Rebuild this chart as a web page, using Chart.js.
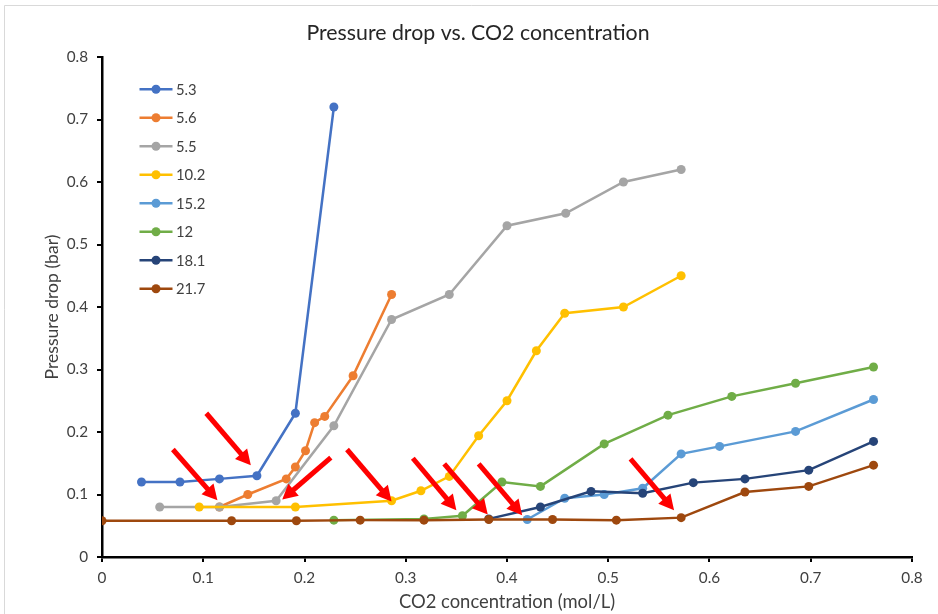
<!DOCTYPE html>
<html><head><meta charset="utf-8">
<script src="https://cdn.jsdelivr.net/npm/chart.js@4.4.1/dist/chart.umd.min.js"></script>
<style>html,body{margin:0;padding:0;background:#fff}#wrap{width:938px;height:614px;position:relative}canvas{display:block}</style>
</head><body><div id="wrap"><canvas id="c" width="938" height="614"></canvas></div>
<script>
// ---- data ----
const seriesNames = ['5.3', '5.6', '5.5', '10.2', '15.2', '12', '18.1', '21.7'];
const s53x = [0.039, 0.077, 0.116, 0.153, 0.191, 0.229];
const s53y = [0.12, 0.12, 0.125, 0.13, 0.23, 0.72];
const s56x = [0.116, 0.144, 0.182, 0.191, 0.201, 0.210, 0.220, 0.248, 0.286];
const s56y = [0.08, 0.10, 0.125, 0.144, 0.17, 0.215, 0.225, 0.29, 0.42];
const s55x = [0.057, 0.116, 0.172, 0.229, 0.286, 0.343, 0.400, 0.458, 0.515, 0.572];
const s55y = [0.08, 0.08, 0.09, 0.21, 0.38, 0.42, 0.53, 0.55, 0.60, 0.62];
const s102x = [0.096, 0.191, 0.286, 0.315, 0.343, 0.372, 0.400, 0.429, 0.457, 0.515, 0.572];
const s102y = [0.08, 0.08, 0.09, 0.106, 0.129, 0.194, 0.25, 0.33, 0.39, 0.40, 0.45];
const s152x = [0.420, 0.457, 0.496, 0.534, 0.572, 0.610, 0.685, 0.762];
const s152y = [0.06, 0.094, 0.10, 0.11, 0.165, 0.177, 0.201, 0.252];
const s12x = [0.229, 0.318, 0.356, 0.395, 0.433, 0.496, 0.559, 0.622, 0.685, 0.762];
const s12y = [0.059, 0.061, 0.066, 0.12, 0.113, 0.181, 0.227, 0.257, 0.278, 0.304];
const s181x = [0.382, 0.433, 0.483, 0.534, 0.584, 0.635, 0.698, 0.762];
const s181y = [0.061, 0.08, 0.105, 0.102, 0.119, 0.125, 0.139, 0.185];
const s217x = [0, 0.128, 0.192, 0.255, 0.318, 0.382, 0.445, 0.508, 0.572, 0.635, 0.698, 0.762];
const s217y = [0.058, 0.058, 0.058, 0.059, 0.059, 0.060, 0.060, 0.059, 0.063, 0.104, 0.113, 0.147];
// red annotation arrows, in data units: tail -> head
const arrowTails = [[0.070, 0.172], [0.103, 0.230], [0.226, 0.159], [0.242, 0.172], [0.307, 0.158], [0.338, 0.149], [0.372, 0.149], [0.522, 0.157]];
const arrowHeads = [[0.114, 0.091], [0.147, 0.147], [0.178, 0.092], [0.286, 0.089], [0.350, 0.075], [0.381, 0.068], [0.415, 0.067], [0.565, 0.075]];
const xTicks = [0, 0.1, 0.2, 0.3, 0.4, 0.5, 0.6, 0.7, 0.8];
const yTicks = [0, 0.1, 0.2, 0.3, 0.4, 0.5, 0.6, 0.7, 0.8];
const chartTitle = 'Pressure drop vs. CO2 concentration';
const xTitle = 'CO2 concentration (mol/L)';
const yTitle = 'Pressure drop (bar)';

const xs = [s53x, s56x, s55x, s102x, s152x, s12x, s181x, s217x];
const ys = [s53y, s56y, s55y, s102y, s152y, s12y, s181y, s217y];
const colors = ['#4472C4', '#ED7D31', '#A5A5A5', '#FFC000', '#5B9BD5', '#70AD47', '#264478', '#9E480E'];

const FONT = 'Lato';
const TXT = '#404040';

// pick font sizes so that text widths match the reference
const mctx = document.createElement('canvas').getContext('2d');
function fitSize(text, targetW) {
  mctx.font = '100px ' + FONT;
  return Math.round(100 * targetW / mctx.measureText(text).width * 10) / 10;
}
const titleSize = fitSize(chartTitle, 343);
const xTitleSize = fitSize(xTitle, 216);
const yTitleSize = fitSize(yTitle, 145);
const tickSize = fitSize('0.8', 21.3);
const legendSize = fitSize('5.3', 20.7);

const datasets = seriesNames.map((n, i) => ({
  label: n,
  data: xs[i].map((x, k) => ({x: x, y: ys[i][k]})),
  borderColor: colors[i],
  backgroundColor: colors[i],
  pointBackgroundColor: colors[i],
  pointBorderColor: colors[i],
  borderWidth: 2.5,
  pointRadius: 4.5,
  pointBorderWidth: 0,
  showLine: true,
  tension: 0,
  order: seriesNames.length - i
}));

const insideLegend = {
  id: 'insideLegend',
  afterDatasetsDraw(chart) {
    const ctx = chart.ctx, ca = chart.chartArea;
    const lx0 = ca.left + 37.5, lx1 = ca.left + 70.5, mx = ca.left + 54, tx = ca.left + 74;
    const y0 = ca.top + 32.3, dy = 28.5;
    chart.data.datasets.forEach((ds, i) => {
      const y = y0 + i * dy;
      ctx.save();
      ctx.strokeStyle = ds.borderColor; ctx.lineWidth = 2.5;
      ctx.beginPath(); ctx.moveTo(lx0, y); ctx.lineTo(lx1, y); ctx.stroke();
      ctx.fillStyle = ds.borderColor;
      ctx.beginPath(); ctx.arc(mx, y, 4.5, 0, Math.PI * 2); ctx.fill();
      ctx.fillStyle = TXT; ctx.font = legendSize + 'px ' + FONT; ctx.textBaseline = 'middle'; ctx.textAlign = 'left';
      ctx.fillText(ds.label, tx, y + 0.5);
      ctx.restore();
    });
  }
};

const arrowPlugin = {
  id: 'arrows',
  afterDatasetsDraw(chart) {
    const ctx = chart.ctx, sx = chart.scales.x, sy = chart.scales.y;
    ctx.save();
    ctx.fillStyle = '#FF0000'; ctx.strokeStyle = '#FF0000'; ctx.lineWidth = 5;
    arrowTails.forEach((t, i) => {
      const h = arrowHeads[i];
      const x0 = sx.getPixelForValue(t[0]), y0 = sy.getPixelForValue(t[1]);
      const x1 = sx.getPixelForValue(h[0]), y1 = sy.getPixelForValue(h[1]);
      const L = Math.hypot(x1 - x0, y1 - y0), ux = (x1 - x0) / L, uy = (y1 - y0) / L;
      const hl = 15, hw = 8;
      const bx = x1 - ux * hl, by = y1 - uy * hl;
      ctx.beginPath(); ctx.moveTo(x0, y0); ctx.lineTo(bx + ux * 2, by + uy * 2); ctx.stroke();
      ctx.beginPath();
      ctx.moveTo(x1, y1);
      ctx.lineTo(bx - uy * hw, by + ux * hw);
      ctx.lineTo(bx + uy * hw, by - ux * hw);
      ctx.closePath(); ctx.fill();
    });
    ctx.restore();
  }
};

const frame = {
  id: 'frame',
  beforeDraw(chart) {
    const ctx = chart.ctx;
    ctx.save(); ctx.fillStyle = '#fff'; ctx.fillRect(0, 0, chart.width, chart.height);
    ctx.strokeStyle = '#D9D9D9'; ctx.lineWidth = 1;
    ctx.beginPath();
    ctx.moveTo(4.5, chart.height); ctx.lineTo(4.5, 5.5); ctx.lineTo(chart.width, 5.5);
    ctx.stroke();
    ctx.restore();
  }
};

function axisCfg(title, ticksArr, isX) {
  const tsize = isX ? xTitleSize : yTitleSize;
  return {
    type: 'linear', min: 0, max: 0.8,
    afterBuildTicks(scale) { scale.ticks = ticksArr.map(v => ({value: v})); },
    afterFit(scale) { if (isX) scale.height = 57; else scale.width = 58; },
    ticks: {
      font: {family: FONT, size: tickSize}, color: TXT, padding: isX ? 7 : 9,
      callback: v => String(+v.toFixed(1))
    },
    grid: {display: true, drawOnChartArea: false, drawTicks: true, tickLength: 5, color: '#000', lineWidth: 2},
    border: {display: true, color: '#000', width: 2.5},
    title: {
      display: true, text: title, color: TXT,
      font: {family: FONT, size: tsize},
      padding: isX ? {top: 0, bottom: 12.3 - tsize * 0.6} : {top: 8 - tsize * 0.6, bottom: 0}
    }
  };
}

new Chart(document.getElementById('c'), {
  type: 'scatter',
  data: {datasets},
  options: {
    responsive: false, animation: false, devicePixelRatio: 1,
    layout: {padding: {left: 44, right: 26, top: 0, bottom: 0}},
    plugins: {
      legend: {display: false},
      tooltip: {enabled: false},
      title: {
        display: true, text: chartTitle,
        font: {family: FONT, size: titleSize, weight: 'normal'}, color: '#262626',
        padding: {top: 33 - titleSize * 0.6, bottom: 57 - 33 - titleSize * 0.6}
      }
    },
    scales: {
      x: axisCfg(xTitle, xTicks, true),
      y: axisCfg(yTitle, yTicks, false)
    }
  },
  plugins: [frame, insideLegend, arrowPlugin]
});
</script>
</body></html>
